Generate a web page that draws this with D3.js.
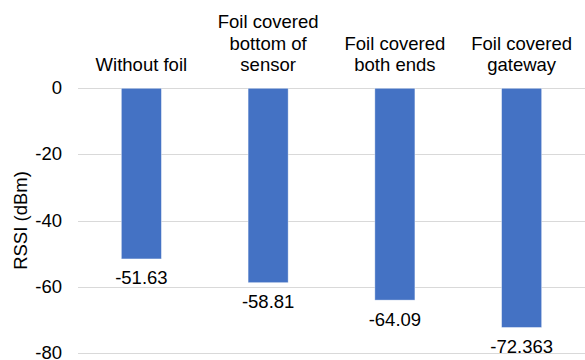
<!DOCTYPE html>
<html>
<head>
<meta charset="utf-8">
<script src="https://cdn.jsdelivr.net/npm/d3@7"></script>
<style>
  html, body { margin: 0; padding: 0; background: #fff; }
  svg { display: block; font-family: "Liberation Sans", Arial, sans-serif; }
</style>
</head>
<body>
<svg id="chart" width="585" height="360"></svg>
<script>
// RSSI measurements per foil configuration
const categories = [
  ["Without foil"],
  ["Foil covered", "bottom of", "sensor"],
  ["Foil covered", "both ends"],
  ["Foil covered", "gateway"]
];
const values = [-51.63, -58.81, -64.09, -72.363];
const valueLabels = ["-51.63", "-58.81", "-64.09", "-72.363"];
const yTicks = [0, -20, -40, -60, -80];
const yTickLabels = ["0", "-20", "-40", "-60", "-80"];
const yTitle = "RSSI (dBm)";

const svg = d3.select("#chart");
const plot = { left: 78, right: 585, top: 88.3, bottom: 352.7 };
const fontSize = 18.5;

const x = d3.scaleBand()
  .domain(d3.range(categories.length))
  .range([plot.left, plot.right])
  .paddingInner(0.684)
  .paddingOuter(0.342);

const y = d3.scaleLinear()
  .domain([0, -80])
  .range([plot.top, plot.bottom]);

// horizontal gridlines
svg.append("g")
  .selectAll("line")
  .data(yTicks)
  .join("line")
  .attr("x1", plot.left)
  .attr("x2", plot.right)
  .attr("y1", d => Math.round(y(d)) + 0.5)
  .attr("y2", d => Math.round(y(d)) + 0.5)
  .attr("stroke", "#d9d9d9")
  .attr("stroke-width", 1.2);

// y axis tick labels (plain hyphen for negatives)
const yAxis = d3.axisLeft(y)
  .tickValues(yTicks)
  .tickFormat((d, i) => yTickLabels[i])
  .tickSize(0)
  .tickPadding(0);
const yg = svg.append("g")
  .attr("transform", `translate(62,0)`)
  .call(yAxis);
yg.select(".domain").remove();
yg.selectAll("text")
  .attr("font-family", "Liberation Sans, Arial, sans-serif")
  .attr("font-size", fontSize)
  .attr("fill", "#000")
  .attr("dy", "0.3em");

// y axis title
svg.append("text")
  .attr("transform", `translate(27,${(plot.top + plot.bottom) / 2}) rotate(-90)`)
  .attr("text-anchor", "middle")
  .attr("font-size", fontSize)
  .attr("fill", "#000")
  .text(yTitle);

// bars
svg.append("g")
  .selectAll("rect")
  .data(values)
  .join("rect")
  .attr("x", (d, i) => x(i))
  .attr("y", y(0))
  .attr("width", x.bandwidth())
  .attr("height", d => y(d) - y(0))
  .attr("fill", "#4472c4")
  .attr("stroke", "#ffffff")
  .attr("stroke-opacity", 0.5)
  .attr("stroke-width", 0.75);

// value labels below each bar
svg.append("g")
  .selectAll("text")
  .data(values)
  .join("text")
  .attr("x", (d, i) => x(i) + x.bandwidth() / 2)
  .attr("y", d => y(d) + 25.5)
  .attr("text-anchor", "middle")
  .attr("font-size", fontSize)
  .attr("fill", "#000")
  .text((d, i) => valueLabels[i]);

// category labels above the plot, bottom-aligned
const lineH = 21.2;
const lastBaseline = 70.7;
const cat = svg.append("g")
  .selectAll("text")
  .data(categories)
  .join("text")
  .attr("text-anchor", "middle")
  .attr("font-size", fontSize)
  .attr("fill", "#000");
cat.selectAll("tspan")
  .data((d, i) => d.map((line, j) => ({ line, j, n: d.length, i })))
  .join("tspan")
  .attr("x", d => x(d.i) + x.bandwidth() / 2)
  .attr("y", d => lastBaseline - (d.n - 1 - d.j) * lineH)
  .text(d => d.line);
</script>
</body>
</html>
